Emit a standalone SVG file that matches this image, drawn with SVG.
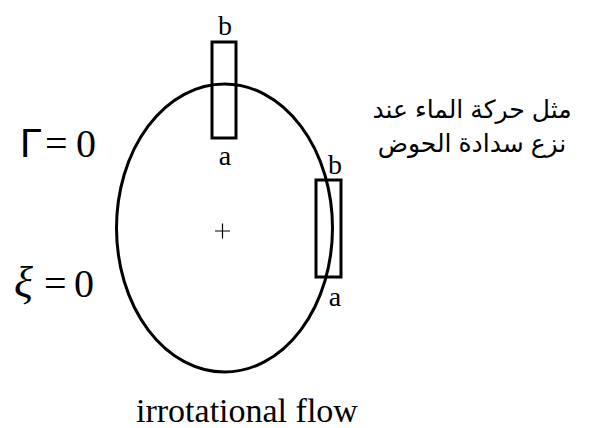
<svg xmlns="http://www.w3.org/2000/svg" width="590" height="428" viewBox="0 0 590 428">
<style>
.s{font-family:"Liberation Serif","Times New Roman",serif;fill:#000}
.lbl{font-size:28px;text-anchor:middle}
.eq{font-size:40px}
.ar{font-family:"Liberation Sans","DejaVu Sans",sans-serif;font-size:25px;text-anchor:middle;direction:rtl}
.ln{fill:none;stroke:#000;stroke-width:3}
</style>
<rect width="590" height="428" fill="#fff"/>
<g id="contour">
<ellipse class="ln" cx="224.5" cy="228" rx="108" ry="144"/>
<path d="M215 231H230M222.5 223.5V238.5" stroke="#000" stroke-width="1.2" fill="none"/>
</g>
<g id="element-top">
<rect class="ln" x="212" y="42" width="24" height="96"/>
<text class="s lbl" x="225" y="35">b</text>
<text class="s lbl" x="225" y="165">a</text>
</g>
<g id="element-right">
<rect class="ln" x="316" y="180" width="25" height="97"/>
<text class="s lbl" x="335" y="174">b</text>
<text class="s lbl" x="335" y="306">a</text>
</g>
<g id="labels">
<text class="s eq" y="157"><tspan x="20" style="font-family:'Liberation Sans',Arial,sans-serif">Γ</tspan><tspan x="45">=</tspan><tspan x="76">0</tspan></text>
<text class="s eq" y="297"><tspan x="14" font-style="italic" font-size="44">ξ</tspan><tspan x="44">=</tspan><tspan x="74">0</tspan></text>
<text class="ar" x="472" y="118">مثل حركة الماء عند</text>
<text class="ar" x="472" y="152">نزع سدادة الحوض</text>
<text class="s" x="136" y="422" font-size="34">irrotational flow</text>
</g>
<g id="connectors"/>
</svg>
